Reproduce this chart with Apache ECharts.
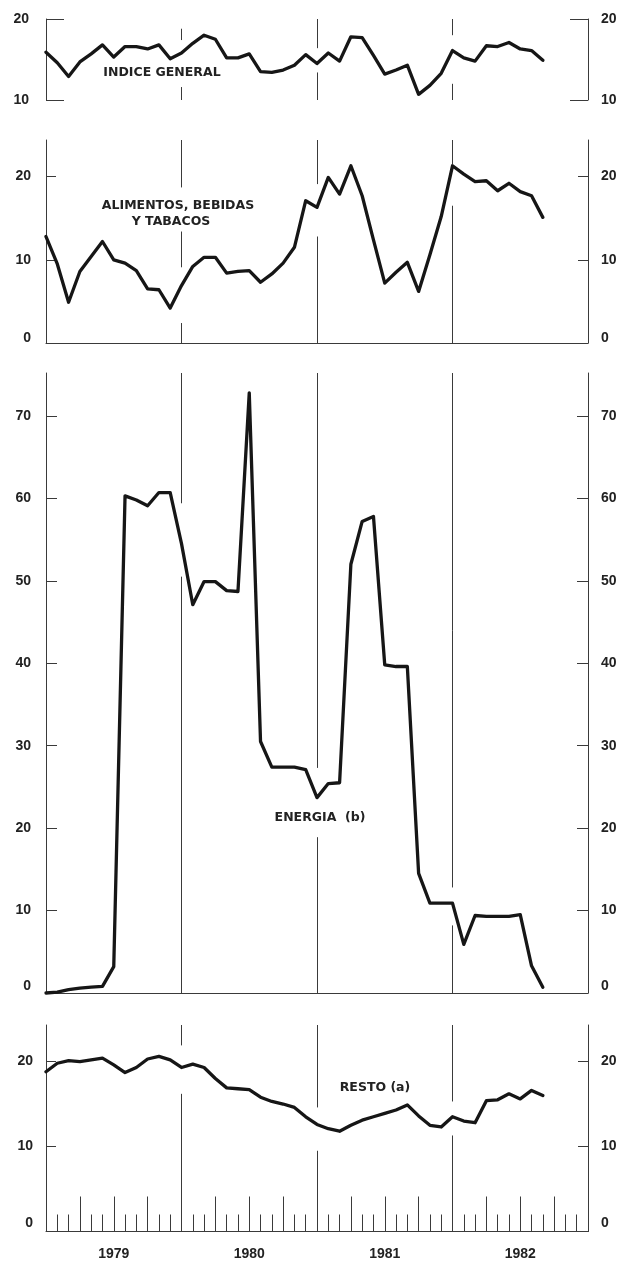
<!DOCTYPE html>
<html><head><meta charset="utf-8">
<script src="https://cdn.jsdelivr.net/npm/echarts@6/dist/echarts.min.js"></script>
<style>html,body{margin:0;padding:0;background:#fff}#c{width:623px;height:1266px}</style>
</head><body><div id="c"></div>
<script>
// month positions: index 0 = Dec 1978 ... index 48 = Dec 1982
const months = [
 '1978-12',
 '1979-01','1979-02','1979-03','1979-04','1979-05','1979-06','1979-07','1979-08','1979-09','1979-10','1979-11','1979-12',
 '1980-01','1980-02','1980-03','1980-04','1980-05','1980-06','1980-07','1980-08','1980-09','1980-10','1980-11','1980-12',
 '1981-01','1981-02','1981-03','1981-04','1981-05','1981-06','1981-07','1981-08','1981-09','1981-10','1981-11','1981-12',
 '1982-01','1982-02','1982-03','1982-04','1982-05','1982-06','1982-07','1982-08','1982-09','1982-10','1982-11','1982-12'
];
const years = ['1979','1980','1981','1982'];

const indiceGeneral = [15.9,14.6,12.9,14.7,15.7,16.8,15.3,16.6,16.6,16.3,16.8,15.1,15.8,17.0,18.0,17.5,15.2,15.2,15.7,13.5,13.4,13.7,14.3,15.6,14.5,15.8,14.8,17.8,17.7,15.5,13.2,13.7,14.3,10.7,11.8,13.3,16.1,15.2,14.8,16.7,16.6,17.1,16.3,16.1,14.9];
const alimentos = [12.8,9.5,4.9,8.6,10.4,12.2,10.0,9.6,8.7,6.5,6.4,4.2,6.9,9.2,10.3,10.3,8.4,8.6,8.7,7.3,8.3,9.6,11.5,17.1,16.3,19.9,17.9,21.3,17.7,12.4,7.2,8.5,9.7,6.2,10.6,15.2,21.3,20.3,19.4,19.5,18.3,19.2,18.2,17.7,15.1];
const energia = [0.0,0.1,0.4,0.6,0.7,0.8,3.2,60.3,59.8,59.1,60.7,60.7,54.5,47.1,49.9,49.9,48.8,48.7,72.8,30.5,27.4,27.4,27.4,27.1,23.7,25.4,25.5,52.0,57.2,57.8,39.8,39.6,39.6,14.5,10.9,10.9,10.9,5.9,9.4,9.3,9.3,9.3,9.5,3.3,0.7];
const resto = [18.8,19.8,20.1,20.0,20.2,20.4,19.6,18.7,19.3,20.3,20.6,20.2,19.3,19.7,19.3,18.0,16.9,16.8,16.7,15.8,15.3,15.0,14.6,13.5,12.6,12.1,11.8,12.5,13.1,13.5,13.9,14.3,14.9,13.6,12.5,12.3,13.5,13.0,12.8,15.4,15.5,16.2,15.6,16.6,16.0];

const panelNames = ['INDICE GENERAL', 'ALIMENTOS, BEBIDAS', 'Y TABACOS', 'ENERGIA  (b)', 'RESTO (a)'];

// y ranges and tick labels per panel
const yMin = [10, 0, 0, 0];
const yMax = [20, 24.4, 75.2, 24.3];
const yTicks = [[10,20],[10,20],[10,20,30,40,50,60,70],[10,20]];
const yLabels = [[10,20],[0,10,20],[0,10,20,30,40,50,60,70],[0,10,20]];

// year dividers (month index) and the visible pieces of each one, in value units
const dividerMonths = [12, 24, 36];
const dividerPieces = [
 [[[10,11.6],[17.4,18.8]], [[10,13.4],[16.4,20]], [[10,12],[18,20]]],
 [[[0,2.4],[9.1,13.4],[18.7,24.4]], [[0,12.8],[19.1,24.4]], [[0,16.5],[21.5,24.4]]],
 [[[0,50.5],[59.4,75.2]], [[0,18.9],[27.3,75.2]], [[0,8.2],[12.8,75.2]]],
 [[[0,16.2],[21.9,24.3]], [[0,9.5],[14.6,24.3]], [[0,11.3],[15.3,24.3]]]
];

const seriesData = [indiceGeneral, alimentos, energia, resto];

const INK = '#161616';
const AX = '#3a3a3a';
const FAM = '"Liberation Sans", Arial, sans-serif';
const tickFont = {fontFamily:FAM, fontWeight:'bold', fontSize:14, color:'#222'};

const grids = [
 {left:46, right:35, top:19, height:81},
 {left:46, right:35, top:140, height:203},
 {left:46, right:35, top:373, height:620},
 {left:46, right:35, top:1025, height:206.5}
];
const tickLen = [18, 10, 11, 10];
const labelMargin = [17, 15, 15, 13];
const rightMargin = [13, 13, 13, 13];
const zeroLift = [0, 10, 14, 17];

const xAxes = [];
for (let i = 0; i < 4; i++) {
  xAxes.push({
    type:'category', gridIndex:i, data:months, boundaryGap:false,
    axisLine:{show: i>0, onZero:false, lineStyle:{color:AX, width:1}},
    axisTick: i===3 ? {show:true, inside:true, length:17, interval:0, lineStyle:{color:AX, width:1}} : {show:false},
    axisLabel: i===3 ? Object.assign({show:true, margin:16,
        interval:(idx)=> idx % 12 === 6,
        formatter:(v)=> v.slice(0,4)}, tickFont) : {show:false},
    splitLine:{show:false}
  });
}
// quarter ticks (taller) on bottom panel
xAxes.push({
  type:'category', gridIndex:3, data:months, boundaryGap:false, position:'bottom',
  axisLine:{show:false},
  axisTick:{show:true, inside:true, length:35, interval:(idx)=> idx % 3 === 0, lineStyle:{color:AX, width:1}},
  axisLabel:{show:false}, splitLine:{show:false}
});

const yAxes = [];
for (let i = 0; i < 4; i++) {
  const rich = {z:{padding:[0,0,zeroLift[i],0], fontFamily:FAM, fontWeight:'bold', fontSize:14, color:'#222'}};
  const fmt = (v) => v === 0 ? '{z|0}' : String(v);
  for (const side of ['left','right']) {
    yAxes.push({
      type:'value', gridIndex:i, position:side, min:yMin[i], max:yMax[i],
      axisLine:{show:true, onZero:false, lineStyle:{color:AX, width:1}},
      axisTick:{show:true, inside:true, length:tickLen[i], customValues:yTicks[i], lineStyle:{color:AX, width:1}},
      axisLabel:Object.assign({show:true, margin: side==='left' ? labelMargin[i] : rightMargin[i],
        customValues:yLabels[i], formatter:fmt, rich:rich}, tickFont),
      splitLine:{show:false}
    });
  }
}

const series = seriesData.map((vals, i) => {
  const segs = [];
  dividerMonths.forEach((m, k) => {
    dividerPieces[i][k].forEach(p => segs.push([{coord:[m, p[0]]}, {coord:[m, p[1]]}]));
  });
  return {
    type:'line', xAxisIndex:i, yAxisIndex:i*2, data:vals,
    showSymbol:false, symbol:'none', smooth:false, clip:false,
    lineStyle:{color:INK, width:3.3, join:'round', cap:'round'},
    markLine:{silent:true, symbol:['none','none'], label:{show:false},
      lineStyle:{type:'solid', color:AX, width:1}, data:segs, animation:false}
  };
});

const labelFont = 'bold 12.5px "DejaVu Sans", sans-serif';
const graphic = [
  {type:'text', x:162, y:73, style:{text:panelNames[0], font:labelFont, fill:'#222', align:'center', verticalAlign:'middle'}},
  {type:'text', x:178, y:206, style:{text:panelNames[1], font:labelFont, fill:'#222', align:'center', verticalAlign:'middle'}},
  {type:'text', x:171, y:222, style:{text:panelNames[2], font:labelFont, fill:'#222', align:'center', verticalAlign:'middle'}},
  {type:'text', x:320, y:818, style:{text:panelNames[3], font:labelFont, fill:'#222', align:'center', verticalAlign:'middle'}},
  {type:'text', x:375, y:1088, style:{text:panelNames[4], font:labelFont, fill:'#222', align:'center', verticalAlign:'middle'}}
];

const chart = echarts.init(document.getElementById('c'), null, {renderer:'canvas'});
chart.setOption({
  backgroundColor:'#fff', animation:false,
  grid:grids, xAxis:xAxes, yAxis:yAxes, series:series, graphic:graphic
});
</script></body></html>
